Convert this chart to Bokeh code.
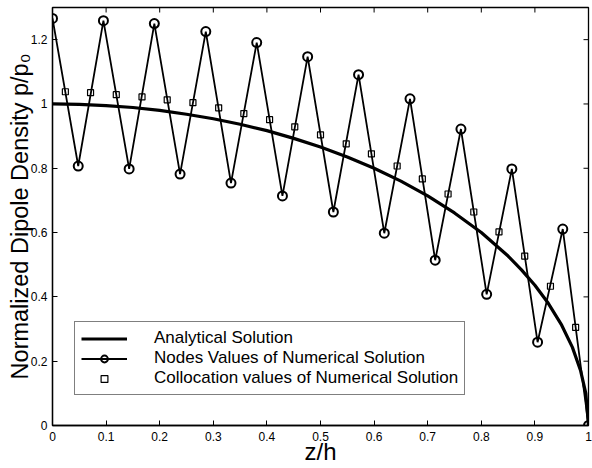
from bokeh.plotting import figure
from bokeh.models import FixedTicker, Legend, LegendItem
from bokeh.embed import file_html
from bokeh.resources import INLINE

# ---- data ----
node_z = [0.0, 0.048, 0.095, 0.143, 0.190, 0.238, 0.286, 0.333, 0.381, 0.429, 0.476,
          0.524, 0.571, 0.619, 0.667, 0.714, 0.762, 0.810, 0.857, 0.905, 0.952, 1.0]
node_p = [1.266, 0.807, 1.259, 0.798, 1.250, 0.782, 1.225, 0.754, 1.191, 0.714, 1.147,
          0.664, 1.091, 0.598, 1.016, 0.514, 0.922, 0.408, 0.798, 0.259, 0.611, 0.0]

coll_z = [0.024, 0.071, 0.119, 0.167, 0.214, 0.262, 0.310, 0.357, 0.405, 0.452, 0.500,
          0.548, 0.595, 0.643, 0.690, 0.738, 0.786, 0.833, 0.881, 0.929, 0.976]
coll_p = [1.038, 1.035, 1.029, 1.022, 1.013, 1.004, 0.988, 0.970, 0.951, 0.929, 0.904,
          0.876, 0.845, 0.807, 0.767, 0.720, 0.664, 0.602, 0.527, 0.433, 0.305]

anal_z = [0.0, 0.05, 0.1, 0.15, 0.2, 0.25, 0.3, 0.35, 0.4, 0.45, 0.5, 0.55, 0.6, 0.65,
          0.7, 0.75, 0.8, 0.85, 0.875, 0.9, 0.925, 0.95, 0.97, 0.985, 0.995, 1.0]
anal_p = [1.0, 0.999, 0.995, 0.989, 0.980, 0.968, 0.954, 0.937, 0.917, 0.893, 0.866,
          0.835, 0.800, 0.760, 0.714, 0.661, 0.600, 0.527, 0.484, 0.436, 0.380, 0.312,
          0.243, 0.172, 0.100, 0.0]

x_ticks = [0, 0.1, 0.2, 0.3, 0.4, 0.5, 0.6, 0.7, 0.8, 0.9, 1.0]
x_tick_labels = ["0", "0.1", "0.2", "0.3", "0.4", "0.5", "0.6", "0.7", "0.8", "0.9", "1"]
y_ticks = [0, 0.2, 0.4, 0.6, 0.8, 1.0, 1.2]
y_tick_labels = ["0", "0.2", "0.4", "0.6", "0.8", "1", "1.2"]

series_names = ["Analytical Solution",
                "Nodes Values of Numerical Solution",
                "Collocation values of Numerical Solution"]

FONT = "Liberation Sans"
X0, X1 = 0.0, 1.0
Y0, Y1 = 0.0, 1.3
FRAME_W, FRAME_H = 536, 418   # approximate frame size in px (for tick length)
TICK_PX = 5

p = figure(width=592, height=468, x_range=(X0, X1), y_range=(Y0, Y1),
           output_backend="svg", toolbar_location=None,
           min_border_left=52, min_border_right=4, min_border_top=7, min_border_bottom=43)
p.grid.visible = False
p.outline_line_color = "black"
p.outline_line_width = 1.3
p.background_fill_color = "white"
p.border_fill_color = "white"

r_anal = p.line(anal_z, anal_p, line_color="black", line_width=3.2)
r_node_line = p.line(node_z, node_p, line_color="black", line_width=1.8)
r_node_pts = p.scatter(node_z, node_p, marker="circle", size=9, line_color="black",
                       line_width=2, fill_alpha=0)
r_coll = p.scatter(coll_z, coll_p, marker="square", size=6, line_color="black",
                   line_width=1.2, fill_alpha=0)

# inward ticks on the top and right edges of the box
ty = TICK_PX * (Y1 - Y0) / FRAME_H
tx = TICK_PX * (X1 - X0) / FRAME_W
p.segment(x0=x_ticks, y0=[Y1] * len(x_ticks), x1=x_ticks, y1=[Y1 - ty] * len(x_ticks),
          line_color="black", line_width=1)
p.segment(x0=[X1] * len(y_ticks), y0=y_ticks, x1=[X1 - tx] * len(y_ticks), y1=y_ticks,
          line_color="black", line_width=1)

def style_axis(ax, ticks, labels):
    ax.ticker = FixedTicker(ticks=ticks)
    ax.major_label_overrides = {t: l for t, l in zip(ticks, labels)}
    ax.major_tick_in = TICK_PX
    ax.major_tick_out = 0
    ax.minor_tick_in = 0
    ax.minor_tick_out = 0
    ax.axis_line_color = "black"
    ax.axis_line_width = 1.3
    ax.major_tick_line_color = "black"
    ax.major_tick_line_width = 1
    ax.major_label_text_font = FONT
    ax.major_label_text_font_size = "12px"
    ax.major_label_text_color = "black"
    ax.axis_label_text_font = FONT
    ax.axis_label_text_font_style = "normal"
    ax.axis_label_text_color = "black"

xa = p.xaxis[0]
style_axis(xa, x_ticks, x_tick_labels)
xa.major_label_standoff = 6
xa.axis_label = "z/h"
xa.axis_label_text_font_size = "24px"
xa.axis_label_standoff = -6

ya = p.yaxis[0]
style_axis(ya, y_ticks, y_tick_labels)
ya.major_label_standoff = 5
ya.axis_label = "Normalized Dipole Density p/p\u2080"
ya.axis_label_text_font_size = "23.5px"
ya.axis_label_standoff = -5

legend = Legend(items=[
    LegendItem(label=series_names[0], renderers=[r_anal]),
    LegendItem(label=series_names[1], renderers=[r_node_line, r_node_pts]),
    LegendItem(label=series_names[2], renderers=[r_coll]),
], location=(22, 30))
legend.margin = 0
legend.padding = 6
legend.spacing = -2
legend.glyph_width = 46
legend.glyph_height = 17
legend.label_height = 17
legend.label_standoff = 27
legend.label_text_font = FONT
legend.label_text_font_size = "17px"
legend.label_text_line_height = 1.0
legend.label_text_color = "black"
legend.border_line_color = "black"
legend.border_line_width = 1.3
legend.background_fill_color = "white"
legend.background_fill_alpha = 1
p.add_layout(legend, "center")

open("out.html", "w").write(file_html(p, INLINE))
